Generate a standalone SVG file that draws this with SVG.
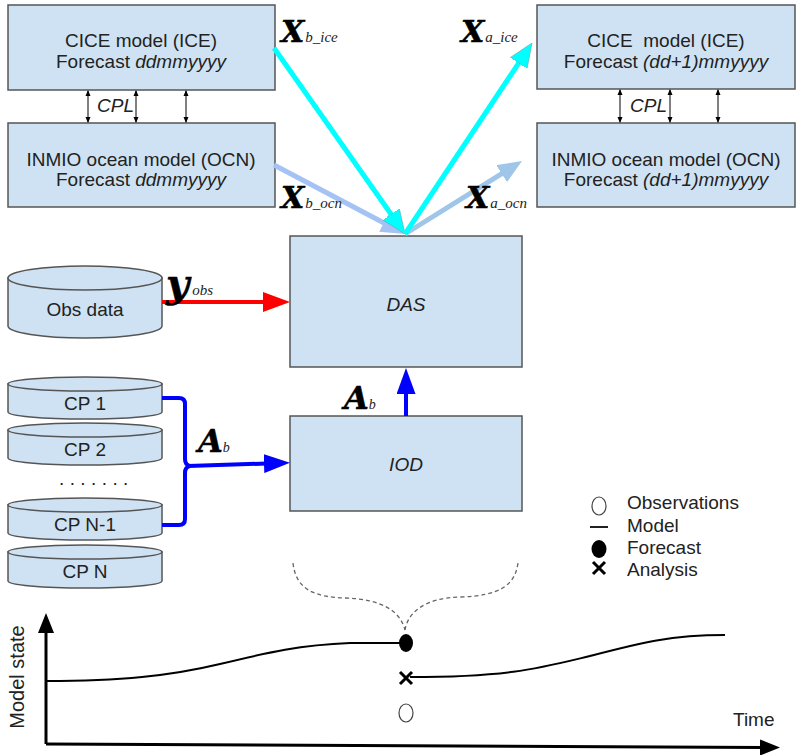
<svg xmlns="http://www.w3.org/2000/svg" width="796" height="756" viewBox="0 0 796 756">
<style>
.box{fill:#cfe2f3;stroke:#555;stroke-width:1.5}
.t{font-family:"Liberation Sans",Arial,sans-serif;font-size:19px;fill:#222;text-anchor:middle}
.i{font-style:italic}
.lt{font-family:"Liberation Sans",Arial,sans-serif;font-size:19px;fill:#222}
.big{font-family:"DejaVu Serif",serif;font-weight:bold;font-style:italic;font-size:30px;fill:#000;stroke:#000;stroke-width:0.5}
.sub{font-family:"Liberation Serif","DejaVu Serif",serif;font-style:italic;font-size:15px;font-weight:normal;fill:#222;stroke:none}
.cpl{stroke:#000;stroke-width:1;fill:none;marker-start:url(#sm);marker-end:url(#sm)}
.cyan{stroke:#00ffff;stroke-width:5;fill:none;marker-end:url(#mc)}
.lb1{stroke:#a4c2f4;stroke-width:5;fill:none;marker-end:url(#ml1)}
.lb2{stroke:#9fc5e8;stroke-width:5;fill:none;marker-end:url(#ml2)}
.red{stroke:#ff0000;stroke-width:4;fill:none;marker-end:url(#mr)}
.blue{stroke:#0000ff;stroke-width:4;fill:none}
.ax{stroke:#000;stroke-width:3;fill:none}
.dash{stroke:#666;stroke-width:1.3;fill:none;stroke-dasharray:4 3}
.crv{stroke:#000;stroke-width:2;fill:none}
</style>
<defs>
<marker id="sm" viewBox="0 0 6 6" refX="5" refY="3" markerWidth="6" markerHeight="6" markerUnits="userSpaceOnUse" orient="auto-start-reverse"><path d="M0,0.5 L6,3 L0,5.5 z" fill="#000"/></marker>
<marker id="mc" viewBox="0 0 24 20" refX="3" refY="10" markerWidth="24" markerHeight="20" markerUnits="userSpaceOnUse" orient="auto"><path d="M0,0 L24,10 L0,20 z" fill="#00ffff" stroke="#6aa" stroke-width="0.6"/></marker>
<marker id="ml1" viewBox="0 0 24 20" refX="3" refY="10" markerWidth="24" markerHeight="20" markerUnits="userSpaceOnUse" orient="auto"><path d="M0,0 L24,10 L0,20 z" fill="#a4c2f4"/></marker>
<marker id="ml2" viewBox="0 0 24 20" refX="3" refY="10" markerWidth="24" markerHeight="20" markerUnits="userSpaceOnUse" orient="auto"><path d="M0,0 L24,10 L0,20 z" fill="#9fc5e8"/></marker>
<marker id="mr" viewBox="0 0 27 20" refX="3" refY="10" markerWidth="27" markerHeight="20" markerUnits="userSpaceOnUse" orient="auto"><path d="M0,0 L27,10 L0,20 z" fill="#ff0000"/></marker>
<marker id="mb" viewBox="0 0 26 19" refX="3" refY="9.5" markerWidth="26" markerHeight="19" markerUnits="userSpaceOnUse" orient="auto"><path d="M0,0 L26,9.5 L0,19 z" fill="#0000ff"/></marker>
<marker id="mk" viewBox="0 0 20 16" refX="3" refY="8" markerWidth="20" markerHeight="16" markerUnits="userSpaceOnUse" orient="auto"><path d="M0,0 L20,8 L0,16 z" fill="#000"/></marker>
</defs>

<g id="ice-left">
<rect class="box" x="8" y="5" width="267" height="85"/>
<text class="t" x="141" y="47">CICE model (ICE)</text>
<text class="t" x="141" y="68">Forecast <tspan class="i">ddmmyyyy</tspan></text>
</g>
<g id="ocn-left">
<rect class="box" x="8" y="123" width="267" height="84"/>
<text class="t" x="141" y="166">INMIO ocean model (OCN)</text>
<text class="t" x="141" y="186">Forecast <tspan class="i">ddmmyyyy</tspan></text>
</g>
<g id="ice-right">
<rect class="box" x="537" y="5" width="258" height="84"/>
<text class="t" x="666" y="47" xml:space="preserve">CICE  model (ICE)</text>
<text class="t" x="666" y="68">Forecast <tspan class="i">(dd+1)mmyyyy</tspan></text>
</g>
<g id="ocn-right">
<rect class="box" x="537" y="123" width="258" height="84"/>
<text class="t" x="666" y="166">INMIO ocean model (OCN)</text>
<text class="t" x="666" y="186">Forecast <tspan class="i">(dd+1)mmyyyy</tspan></text>
</g>
<g id="das">
<rect class="box" x="290" y="236" width="232" height="131"/>
<text class="t i" x="406" y="311">DAS</text>
</g>
<g id="iod">
<rect class="box" x="290" y="416" width="232" height="95"/>
<text class="t i" x="406" y="471">IOD</text>
</g>
<g id="obs-data">
<path class="box" d="M8,278 L8,326 A77,12 0 0 0 162,326 L162,278 Z"/>
<ellipse class="box" cx="85" cy="278" rx="77" ry="12"/>
<text class="t" x="85" y="316">Obs data</text>
</g>
<g id="cp1">
<path class="box" d="M8,384 L8,412 A77,7 0 0 0 162,412 L162,384 Z"/>
<ellipse class="box" cx="85" cy="384" rx="77" ry="7"/>
<text class="t" x="85" y="410">CP 1</text>
</g>
<g id="cp2">
<path class="box" d="M8,430 L8,458 A77,7 0 0 0 162,458 L162,430 Z"/>
<ellipse class="box" cx="85" cy="430" rx="77" ry="7"/>
<text class="t" x="85" y="456">CP 2</text>
</g>
<g id="cp-dots">
<text class="lt" x="59" y="485" style="letter-spacing:5.4px">.......</text>
</g>
<g id="cpn1">
<path class="box" d="M8,505 L8,533 A77,7 0 0 0 162,533 L162,505 Z"/>
<ellipse class="box" cx="85" cy="505" rx="77" ry="7"/>
<text class="t" x="85" y="531">CP N-1</text>
</g>
<g id="cpn">
<path class="box" d="M8,552 L8,581 A77,7 0 0 0 162,581 L162,552 Z"/>
<ellipse class="box" cx="85" cy="552" rx="77" ry="7"/>
<text class="t" x="85" y="578">CP N</text>
</g>

<g id="connectors">
<line class="cpl" x1="88" y1="91" x2="88" y2="122"/>
<line class="cpl" x1="136" y1="91" x2="136" y2="122"/>
<line class="cpl" x1="186" y1="91" x2="186" y2="122"/>
<line class="cpl" x1="620" y1="90" x2="620" y2="122"/>
<line class="cpl" x1="670" y1="90" x2="670" y2="122"/>
<line class="cpl" x1="718" y1="90" x2="718" y2="122"/>
<line class="lb1" x1="274" y1="165" x2="386.4" y2="224.2"/>
<line class="lb2" x1="405" y1="234" x2="504.2" y2="172.1"/>
<line class="cyan" x1="274" y1="48" x2="392.9" y2="216.8"/>
<line class="cyan" x1="405" y1="234" x2="520.4" y2="60.5"/>
<line class="red" x1="162" y1="302" x2="266" y2="302"/>
<path class="blue" d="M162,398 H179 Q185,398 185,404 V459 Q185,465 190,466 Q185,467 185,473 V519 Q185,525 179,525 H162"/>
<line class="blue" x1="188" y1="466" x2="267" y2="463.5" marker-end="url(#mb)"/>
<line class="blue" x1="406" y1="416" x2="406" y2="391" marker-end="url(#mb)"/>
</g>

<g id="labels">
<text class="lt i" x="97" y="112">CPL</text>
<text class="lt i" x="630" y="112">CPL</text>
<text class="big" x="281" y="42">X<tspan class="sub" dx="1">b_ice</tspan></text>
<text class="big" x="281" y="208">X<tspan class="sub" dx="1">b_ocn</tspan></text>
<text class="big" x="461" y="42">X<tspan class="sub" dx="1">a_ice</tspan></text>
<text class="big" x="466" y="208">X<tspan class="sub" dx="1">a_ocn</tspan></text>
<text class="big" x="166" y="297" style="font-size:40px">y<tspan class="sub" dx="3" dy="-2">obs</tspan></text>
<text class="big" x="198" y="452" style="font-size:32px">A<tspan class="sub" style="font-size:14px">b</tspan></text>
<text class="big" x="344" y="409" style="font-size:32px">A<tspan class="sub" style="font-size:14px">b</tspan></text>
</g>

<g id="legend">
<ellipse cx="599" cy="506" rx="7" ry="9" fill="#fff" stroke="#444" stroke-width="1.2"/>
<line x1="590" y1="527" x2="608" y2="527" stroke="#222" stroke-width="2"/>
<ellipse cx="599" cy="549" rx="7.5" ry="9" fill="#000"/>
<path d="M593,562 L605,574 M605,562 L593,574" stroke="#000" stroke-width="3"/>
<text class="lt" x="627" y="509">Observations</text>
<text class="lt" x="627" y="532">Model</text>
<text class="lt" x="627" y="554">Forecast</text>
<text class="lt" x="627" y="576">Analysis</text>
</g>

<g id="graph">
<path class="dash" d="M293,563 C296,590 315,597 345,598 C380,599 400,610 405,630"/>
<path class="dash" d="M405,630 C408,612 425,598 460,597 C500,596 515,585 518,563"/>
<line class="ax" x1="46" y1="744" x2="46" y2="630" marker-end="url(#mk)"/>
<line class="ax" x1="46" y1="744" x2="763" y2="747.5" marker-end="url(#mk)"/>
<path class="crv" d="M46,681 C120,681 170,676 220,664 C270,652 300,645 350,643 L405,643"/>
<path class="crv" d="M410,677 C510,677 540,668 590,656 C640,643 670,635 725,635"/>
<ellipse cx="406" cy="643" rx="7" ry="9" fill="#000"/>
<path d="M400,672 L412,684 M412,672 L400,684" stroke="#000" stroke-width="3"/>
<ellipse cx="406" cy="713" rx="7" ry="9" fill="#fff" stroke="#444" stroke-width="1.2"/>
<text class="lt" x="733" y="726">Time</text>
<text class="lt" transform="translate(24,677) rotate(-90)" text-anchor="middle" style="font-size:20px">Model state</text>
</g>
</svg>
